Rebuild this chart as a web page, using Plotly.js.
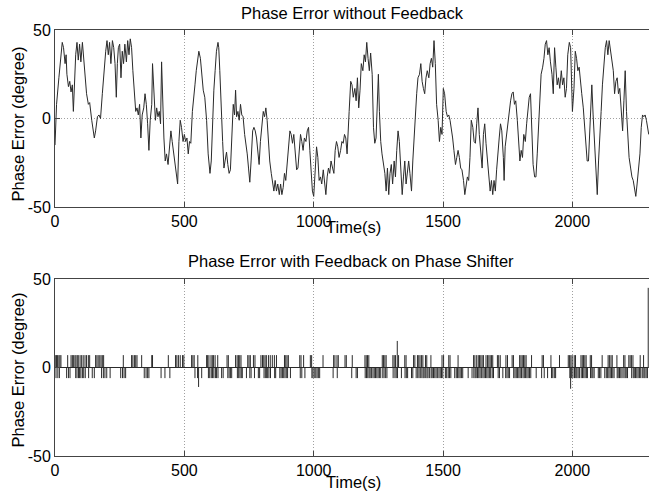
<!DOCTYPE html>
<html>
<head>
<meta charset="utf-8">
<script src="https://cdn.plot.ly/plotly-3.0.1.min.js"></script>
<style>html,body{margin:0;padding:0;background:#fff;}#chart{width:649px;height:494px;}</style>
</head>
<body>
<div id="chart"></div>
<script>
// ---------- Data ----------
// Top panel: phase error without feedback (time s, degrees)
const topTime = [0,6,15,23,28,33,39,43,46,52,57,62,67,71,75,80,85,90,95,100,106,111,116,122,129,134,142,147,152,157,164,170,176,183,189,196,201,206,211,216,222,227,232,237,241,245,250,255,260,265,270,276,281,286,291,296,301,307,312,317,322,327,332,337,343,348,353,358,363,368,374,377,383,388,393,398,403,408,412,416,421,426,431,437,442,448,453,459,464,469,474,479,484,489,495,500,505,510,515,520,525,531,536,541,546,551,556,562,
566,573,579,586,592,599,604,609,614,619,624,630,633,637,642,648,653,658,663,668,673,678,684,689,694,698,702,707,712,717,722,727,733,738,743,748,753,758,764,769,774,779,784,789,794,800,805,810,815,820,825,830,836,841,846,851,856,861,867,872,877,882,887,892,897,903,908,913,918,923,928,934,939,944,949,954,959,964,970,975,980,985,990,995,1000,1006,1011,1016,1021,1026,1031,1037,1042,1047,1052,1057,1062,1067,1073,1078,1083,1088,1093,1098,1104,1109,1114,1119,1124,1129,
1137,1143,1148,1153,1159,1164,1169,1174,1179,1184,1190,1195,1200,1205,1210,1215,1220,1226,1231,1236,1241,1246,1250,1254,1259,1264,1269,1275,1280,1285,1290,1295,1300,1305,1311,1316,1321,1326,1331,1336,1342,1347,1352,1357,1362,1367,1372,1378,1383,1388,1393,1398,1403,1409,1414,1419,1424,1429,1434,1439,1445,1450,1455,1460,1465,1470,1475,1481,1486,1491,1496,1501,1506,1512,1517,1522,1527,1532,1537,1542,1548,1553,1558,1563,1568,1573,1579,1584,1589,1594,1599,1604,1609,1615,1620,1625,1630,1635,1640,1646,1651,1656,1661,1666,1671,1676,1682,1687,1692,
1697,1702,1707,1712,1717,1722,1727,1733,1736,1740,1745,1751,1756,1761,1766,1771,1776,1781,1787,1792,1797,1802,1807,1812,1818,1823,1828,1833,1838,1843,1848,1854,1859,1864,1869,1874,1879,1885,1890,1895,1900,1905,1910,1915,1921,1926,1931,1936,1941,1946,1951,1957,1962,1967,1972,1977,1982,1988,1993,1998,2000,2006,2011,2016,2021,2026,2031,2036,2042,2047,2052,2057,2062,2067,2073,2075,2080,2085,2091,2096,2101,2106,2111,2116,2121,2127,2132,2137,2142,2147,2152,2158,2163,2168,2173,2178,2183,2188,2194,2199,2204,2209,2214,2219,2225,2230,2235,2240,2245,2250,2255,2261,2266,2271,2276,2281,2286,2291,2295];
const topPhase = [-15,8,23,34,43,40,31,36,25,18,21,15,19,4,21,36,43,33,42,32,43,33,23,14,8,9,-1,-7,-11,-7,1,2,0,14,27,38,44,36,43,31,44,40,31,12,31,40,42,23,38,31,42,32,44,36,45,40,27,14,4,6,2,8,-11,2,6,14,8,-3,-18,-1,8,31,14,-1,6,1,4,-3,32,10,-11,-24,-20,-26,-16,-7,-13,-20,-26,-31,-37,-13,-1,-5,-13,-9,-13,-11,-20,-13,-14,4,14,19,27,32,38,34,
27,16,12,-1,-20,-31,-24,2,16,27,38,43,40,27,4,-13,-28,-24,-19,-26,-31,-29,-3,8,2,16,1,4,-1,8,2,1,-9,-14,-20,-28,-36,-24,-7,-5,-7,-11,-18,-26,-13,-3,4,1,6,-1,-14,-24,-31,-37,-41,-35,-41,-37,-43,-37,-43,-39,-31,-35,-26,-20,-7,-9,-14,-9,-20,-29,-28,-16,-9,-13,-18,-11,-13,-7,-5,-18,-33,-41,-44,-24,-16,-22,-35,-33,-37,-29,-37,-43,-33,-28,-31,-24,-28,-31,-18,-13,-16,-22,-18,-13,-14,-9,-11,-20,
4,21,19,12,17,10,23,6,16,31,27,36,32,43,34,27,37,25,-5,-14,-11,14,25,4,-13,-20,-26,-31,-41,-28,-43,-31,-26,-37,-24,-33,-18,-7,-13,-31,-43,-33,-24,-37,-28,-24,-31,-41,-24,-9,2,14,23,25,31,21,17,14,23,27,23,31,34,29,44,31,8,-1,-13,-5,-9,17,14,4,1,2,-1,-5,-11,-18,-26,-22,-18,-22,-28,-29,-35,-43,-37,-33,-35,-22,-1,-5,-13,-14,-3,6,-9,-22,-28,-9,-3,-14,-22,-28,-41,-35,-43,
-35,-41,-29,-18,-11,-3,-7,-22,-35,-16,-9,-1,6,10,14,15,8,10,-1,-13,-24,-18,-22,-9,-13,-3,4,12,14,-5,-26,-33,-33,-20,-5,6,25,29,34,42,44,36,40,32,25,14,40,29,19,23,17,27,19,23,12,17,36,43,40,14,4,17,38,34,27,29,23,14,6,-5,-14,-24,-24,-5,8,19,2,-11,-24,-43,-24,-5,4,19,31,40,44,36,44,38,32,27,14,21,23,14,17,6,-7,10,27,4,-11,-22,-28,-33,-35,-41,-44,-37,-29,-20,-5,2,1,2,-1,-5,-9];

// Bottom panel: phase error with feedback — baseline 0 with single-sample excursions
const baseStart = 0, baseEnd = 2295, baseLevel = 0;
const posLevel = 7;    // typical upward excursion (deg)
const negLevel = -6;   // typical downward excursion (deg)
const posSpikeTimes = [3,6,10,15,19,23,49,62,67,71,77,81,86,90,97,103,109,116,122,129,134,157,162,167,173,178,183,188,264,296,301,307,312,317,335,374,377,438,466,471,477,484,493,498,528,533,538,552,
586,590,595,603,608,613,619,629,665,670,698,704,709,714,719,745,750,755,767,773,796,802,807,812,817,825,832,840,848,856,887,892,897,902,946,951,961,987,992,1036,1077,1082,1090,1095,1121,1126,1149,
1198,1203,1208,1213,1265,1270,1275,1280,1306,1311,1316,1328,1352,1357,1386,1391,1401,1406,1411,1417,1422,1432,1437,1453,1496,1502,1522,1527,1558,1618,1623,1630,1636,1641,1646,1651,1656,1666,1672,1677,1682,1687,1692,1710,1715,1721,
1743,1749,1767,1772,1796,1801,1806,1811,1816,1821,1842,1883,1888,1917,1950,1984,1989,1994,1999,2007,2012,2033,2038,2043,2048,2053,2069,2074,2115,2138,2143,2149,2154,2172,2198,2203,2218,2223,2228,2234,2262,2275];
const negSpikeTimes = [4,11,17,45,52,58,80,85,91,95,100,106,111,117,130,144,152,180,187,193,200,213,254,261,267,273,345,352,358,363,410,425,444,541,551,567,
593,598,604,609,614,620,624,630,644,650,668,673,678,683,705,710,715,720,724,740,753,758,771,786,791,808,813,818,822,827,833,849,853,869,874,879,884,889,894,899,910,948,954,966,993,997,1002,1008,1013,1018,1023,1075,1091,1147,
1164,1169,1199,1204,1209,1214,1218,1223,1229,1234,1239,1244,1249,1254,1259,1267,1272,1278,1283,1307,1314,1319,1324,1339,1353,1358,1363,1378,1383,1396,1402,1407,1412,1418,1423,1427,1433,1438,1442,1448,1454,1458,1463,1468,1473,1478,1484,1489,1494,1499,1509,1514,1520,1525,1530,1545,1551,1556,1561,1566,1571,1576,1597,1612,1619,1624,1628,1633,1638,1643,1648,1654,1659,1664,1669,1674,1679,1684,1690,1695,1713,1718,1731,
1742,1747,1752,1757,1773,1778,1783,1788,1793,1798,1803,1809,1814,1819,1824,1829,1834,1839,1860,1881,1891,1904,1919,1924,1930,1935,1990,1997,2002,2008,2013,2017,2022,2027,2034,2039,2044,2049,2054,2058,2070,2075,2079,2084,2100,2105,2110,2125,2131,2136,2141,2146,2151,2156,2161,2173,2177,2182,2187,2192,2199,2204,2208,2213,2229,2235,2239,2244,2249,2254,2259,2264,2270,2276,2280,2285,2290];
const bigSpikeTimes = [555, 1323, 1993, 2293];
const bigSpikeValues = [-11, 15, -12, 45];

const xTicks = [0, 500, 1000, 1500, 2000];
const yTicks = [-50, 0, 50];
const titleTop = 'Phase Error without Feedback';
const titleBottom = 'Phase Error with Feedback on Phase Shifter';
const xLabel = 'Time(s)';
const yLabel = 'Phase Error (degree)';

// ---------- Build spike line (vertical strokes) ----------
const sx = [], sy = [];
function addSpike(t, v) { sx.push(t, t, null); sy.push(baseLevel, v, null); }
posSpikeTimes.forEach(t => addSpike(t, posLevel));
negSpikeTimes.forEach(t => addSpike(t, negLevel));
bigSpikeTimes.forEach((t, i) => addSpike(t, bigSpikeValues[i]));

const lineColor = '#2a2a2a';
const traces = [
  {x: topTime, y: topPhase, type: 'scatter', mode: 'lines', xaxis: 'x', yaxis: 'y',
   line: {color: lineColor, width: 1}, hoverinfo: 'skip'},
  {x: [baseStart, baseEnd], y: [baseLevel, baseLevel], type: 'scatter', mode: 'lines', xaxis: 'x2', yaxis: 'y2',
   line: {color: lineColor, width: 1}, hoverinfo: 'skip'},
  {x: sx, y: sy, type: 'scatter', mode: 'lines', xaxis: 'x2', yaxis: 'y2', connectgaps: false,
   line: {color: lineColor, width: 1}, hoverinfo: 'skip'}
];

const W = 649, H = 494;
const xDom = [55 / W, 1];
const axColor = '#444';
const gridColor = '#a0a0a0';
function xAx(anchor) {
  return {domain: xDom, anchor: anchor, range: [0, 2296], tickvals: xTicks, ticktext: xTicks.map(String),
    showgrid: true, gridcolor: gridColor, griddash: '1px,2px', gridwidth: 1,
    showline: true, linecolor: axColor, linewidth: 1, mirror: 'ticks',
    ticks: 'inside', ticklen: 5, tickcolor: axColor, zeroline: false,
    tickfont: {size: 16, color: '#000'}, fixedrange: true};
}
function yAx(anchor, dom) {
  return {domain: dom, anchor: anchor, range: [-50, 50], tickvals: yTicks, ticktext: yTicks.map(String),
    showgrid: true, gridcolor: gridColor, griddash: '1px,2px', gridwidth: 1,
    showline: true, linecolor: axColor, linewidth: 1, mirror: false,
    ticks: 'inside', ticklen: 5, tickcolor: axColor, zeroline: false,
    tickfont: {size: 16, color: '#000'}, fixedrange: true};
}

const layout = {
  width: W, height: H, margin: {l: 0, r: 0, t: 0, b: 0},
  paper_bgcolor: '#ffffff', plot_bgcolor: '#ffffff', showlegend: false,
  font: {family: '"Liberation Sans", Arial, sans-serif', size: 16, color: '#000'},
  xaxis: xAx('y'),
  yaxis: yAx('x', [1 - 207 / H, 1 - 30 / H]),
  xaxis2: xAx('y2'),
  yaxis2: yAx('x2', [1 - 456 / H, 1 - 279 / H]),
  annotations: [
    {text: titleTop, xref: 'paper', yref: 'paper', x: 352 / W, y: 1 - 12.5 / H, xanchor: 'center', yanchor: 'middle', showarrow: false, font: {size: 16.5}},
    {text: titleBottom, xref: 'paper', yref: 'paper', x: 351 / W, y: 1 - 261 / H, xanchor: 'center', yanchor: 'middle', showarrow: false, font: {size: 16.5}},
    {text: xLabel, xref: 'paper', yref: 'paper', x: 353 / W, y: 1 - 227 / H, xanchor: 'center', yanchor: 'middle', showarrow: false, font: {size: 16.5}},
    {text: xLabel, xref: 'paper', yref: 'paper', x: 353 / W, y: 1 - 482 / H, xanchor: 'center', yanchor: 'middle', showarrow: false, font: {size: 16.5}},
    {text: yLabel, xref: 'paper', yref: 'paper', x: 17.5 / W, y: 1 - 124 / H, xanchor: 'center', yanchor: 'middle', textangle: -90, showarrow: false, font: {size: 16.5}},
    {text: yLabel, xref: 'paper', yref: 'paper', x: 17.5 / W, y: 1 - 370 / H, xanchor: 'center', yanchor: 'middle', textangle: -90, showarrow: false, font: {size: 16.5}}
  ]
};

Plotly.newPlot('chart', traces, layout, {staticPlot: true, displayModeBar: false});
</script>
</body>
</html>
